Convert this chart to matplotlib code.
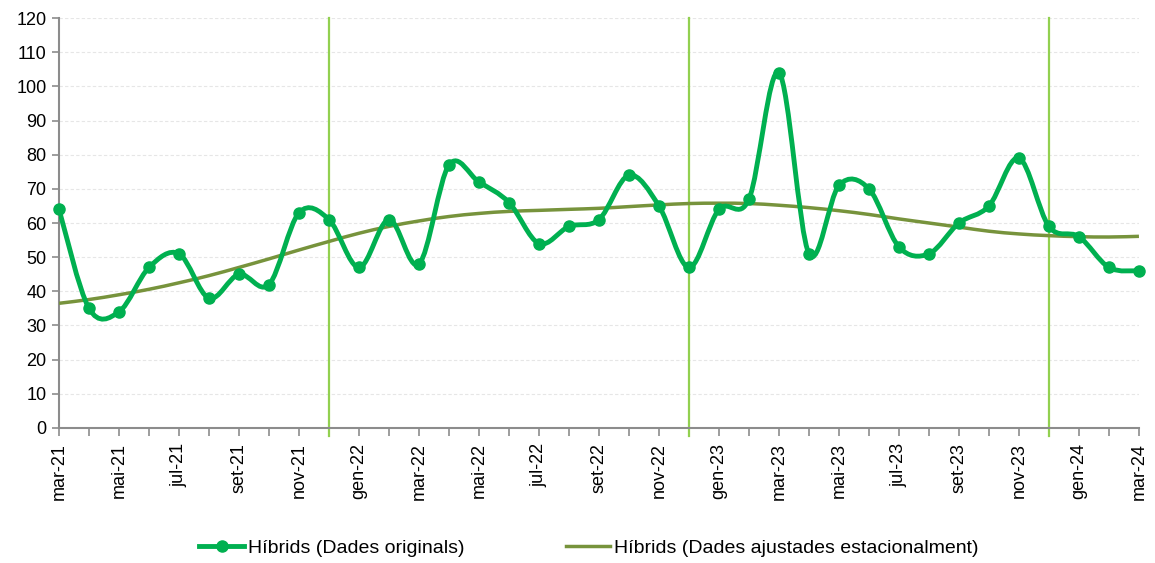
import numpy as np
import matplotlib.pyplot as plt
from matplotlib.path import Path
from matplotlib.patches import PathPatch
from matplotlib.lines import Line2D

plt.rcParams['font.family'] = ['Liberation Sans', 'DejaVu Sans']

months = ["mar-21", "abr-21", "mai-21", "jun-21", "jul-21", "ago-21", "set-21", "oct-21",
          "nov-21", "des-21", "gen-22", "feb-22", "mar-22", "abr-22", "mai-22", "jun-22",
          "jul-22", "ago-22", "set-22", "oct-22", "nov-22", "des-22", "gen-23", "feb-23",
          "mar-23", "abr-23", "mai-23", "jun-23", "jul-23", "ago-23", "set-23", "oct-23",
          "nov-23", "des-23", "gen-24", "feb-24", "mar-24"]

originals = [64, 35, 34, 47, 51, 38, 45, 42, 63, 61, 47, 61, 48, 77, 72, 66, 54, 59, 61, 74,
             65, 47, 64, 67, 104, 51, 71, 70, 53, 51, 60, 65, 79, 59, 56, 47, 46]

ajustades = [36.5, 37.6, 39.0, 40.6, 42.5, 44.6, 47.0, 49.5, 52.1, 54.6, 57.0, 59.0, 60.6,
             61.9, 62.8, 63.4, 63.7, 64.0, 64.3, 64.8, 65.3, 65.7, 65.8, 65.7, 65.2, 64.5,
             63.6, 62.5, 61.2, 60.0, 58.8, 57.6, 56.8, 56.3, 56.0, 55.9, 56.1]

# desembre de cada any
separadors = ["des-21", "des-22", "des-23"]

label_orig = "Híbrids (Dades originals)"
label_adj = "Híbrids (Dades ajustades estacionalment)"


def smooth_path(x, y):
    # corba suau tipus Excel (Catmull-Rom a Bezier)
    pts = np.column_stack([x, y]).astype(float)
    verts = [pts[0]]
    codes = [Path.MOVETO]
    n = len(pts)
    for i in range(n - 1):
        p0 = pts[i - 1] if i > 0 else pts[i]
        p1 = pts[i]
        p2 = pts[i + 1]
        p3 = pts[i + 2] if i + 2 < n else pts[i + 1]
        c1 = p1 + (p2 - p0) / 6.0
        c2 = p2 - (p3 - p1) / 6.0
        verts += [c1, c2, p2]
        codes += [Path.CURVE4] * 3
    return Path(verts, codes)


x = np.arange(len(months))

fig = plt.figure(figsize=(11.55, 5.63), dpi=100)
ax = fig.add_axes([0.0511, 0.2398, 0.935, 0.7282])

ax.set_ylim(0, 120)
ax.set_xlim(0, len(months) - 1)
ax.set_yticks(range(0, 121, 10))
ax.yaxis.grid(True, color="#e6e6e6", linestyle=(0, (3, 2)), linewidth=0.8)
ax.set_axisbelow(True)

for s in separadors:
    ax.axvline(months.index(s), color="#92D050", linewidth=1.6, zorder=2, clip_on=False,
               ymin=-0.02, ymax=1.0)

ax.add_patch(PathPatch(smooth_path(x, ajustades), facecolor="none", edgecolor="#77933C",
                       linewidth=2.5, zorder=3))
ax.add_patch(PathPatch(smooth_path(x, originals), facecolor="none", edgecolor="#00B050",
                       linewidth=3.5, zorder=4, capstyle="round"))
ax.plot(x, originals, "o", color="#00B050", markersize=8, zorder=5, clip_on=False)

ax.set_xticks(x[::2])
ax.set_xticklabels(months[::2], rotation=90)
ax.set_xticks(x, minor=True)
ax.tick_params(axis="x", which="both", length=6, width=1.2, color="#8c8c8c",
               labelsize=13, pad=5)
ax.tick_params(axis="y", length=5, width=1.2, color="#8c8c8c", labelsize=13, pad=4)

for side in ["top", "right"]:
    ax.spines[side].set_visible(False)
for side in ["left", "bottom"]:
    ax.spines[side].set_color("#8c8c8c")
    ax.spines[side].set_linewidth(1.5)

handles = [
    Line2D([], [], color="#00B050", linewidth=3.5, marker="o", markersize=8),
    Line2D([], [], color="#77933C", linewidth=2.5),
]
fig.legend(handles, [label_orig, label_adj], loc="center", ncol=2,
           bbox_to_anchor=(0.51, 0.027), frameon=False, fontsize=14,
           handlelength=2.3, handletextpad=0.2, columnspacing=5.2)

fig.savefig("out.png", dpi=100)
